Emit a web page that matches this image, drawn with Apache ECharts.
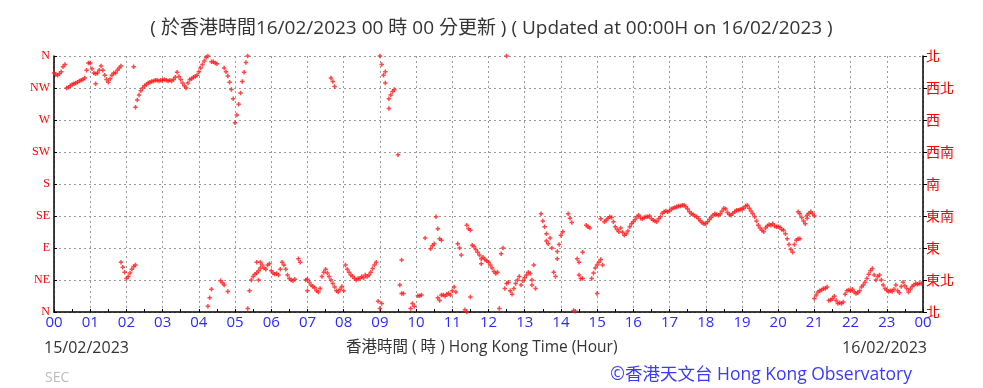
<!DOCTYPE html>
<html><head><meta charset="utf-8">
<script src="https://cdn.jsdelivr.net/npm/echarts@6/dist/echarts.min.js"></script>
<style>html,body{margin:0;padding:0;background:#fff;}#c{width:983px;height:388px;}</style>
</head><body><div id="c"></div>
<script>
// Wind direction (degrees) sampled every 3 minutes; one array per hour (20 slots).
// A slot may hold null (no data) or a list of several readings.
const h00 = [336,334,333,335,338,345,348,315,316,318,320,321,322,323,325,326,327,329,340,350];
const h01 = [350,342,336,[335,321],336,340,346,340,333,327,323,328,333,336,336,340,343,[346,70],63,56];
const h02 = [47,50,55,60,[64,345],[66,288],298,305,311,315,318,320,322,323,324,325,326,326,325,326];
const h03 = [326,327,326,325,326,325,327,330,337,331,327,322,318,315,322,327,328,330,331,333];
const h04 = [338,343,348,353,358,[360,8],20,[352,32],352,350,349,null,44,41,[343,38],338,[332,29],323,313,300];
const h05 = [266,277,292,308,324,337,351,[360,5],30,45,50,53,[55,70],[58,45],[70,62],66,62,60,66,68];
const h06 = [58,55,53,54,52,60,70,66,60,52,47,45,44,46,null,75,70,null,null,45];
const h07 = [[46,30],42,38,36,34,30,28,33,50,56,60,55,50,[45,329],[40,324],[35,317],30,28,32,36];
const h08 = [30,66,60,56,52,50,47,45,47,47,50,48,52,50,52,56,61,66,70,15];
const h09 = [[360,5],[348,12],333,[322,338],null,[286,300],305,310,313,null,221,38,[26,73],26,null,null,null,5,12,8];
const h10 = [null,23,23,24,null,104,null,null,89,93,96,134,[117,20],[103,16],[101,24],24,22,25,26,24];
const h11 = [30,35,28,96,90,80,null,3,[0,122],117,[115,21],94,92,88,84,80,[75,68],77,74,72];
const h12 = [70,66,62,57,54,56,5,82,90,33,[40,360],42,30,25,33,40,45,50,38,44];
const h13 = [48,52,56,54,[45,38],66,33,null,null,138,128,120,[110,100],96,104,90,56,50,[75,85],95];
const h14 = [108,113,null,null,138,132,126,2,1,75,[70,52],47,[84,47],null,122,120,118,47,55,62];
const h15 = [[66,26],70,[131,74],66,127,129,132,134,133,127,120,116,113,118,112,108,110,114,120,124];
const h16 = [127,130,134,136,132,131,133,134,134,135,131,129,128,127,131,134,139,141,142,141];
const h17 = [142,145,146,147,148,149,149,150,150,148,145,141,138,137,135,134,131,128,126,124];
const h18 = [124,127,130,133,136,138,137,136,138,142,146,145,140,137,136,139,141,143,143,144];
const h19 = [145,146,149,150,146,142,138,134,128,122,118,115,113,118,121,123,122,124,121,120];
const h20 = [120,119,116,115,110,103,95,88,84,95,101,[103,141],[103,138],133,128,124,[136,132],139,141,138];
const h21 = [[135,19],24,28,30,31,33,33,35,16,17,19,22,16,12,13,12,14,25,30,31];
const h22 = [30,32,28,26,27,30,35,38,42,47,53,58,61,52,45,50,52,45,38,33];
const h23 = [31,29,30,29,32,38,30,27,36,42,37,33,28,32,36,38,40,39,40,40];

const hours = [h00,h01,h02,h03,h04,h05,h06,h07,h08,h09,h10,h11,h12,h13,h14,h15,h16,h17,h18,h19,h20,h21,h22,h23];
const dirLabelsEN = ['N','NE','E','SE','S','SW','W','NW','N'];
const dirLabelsZH = ['北','東北','東','東南','南','西南','西','西北','北'];
const hourLabels = ['00','01','02','03','04','05','06','07','08','09','10','11','12','13','14','15','16','17','18','19','20','21','22','23','00'];

const points = [];
hours.forEach((arr, h) => {
  arr.forEach((v, k) => {
    const t = h + k * 0.05;
    if (v === null) return;
    (Array.isArray(v) ? v : [v]).forEach(d => points.push([t, d]));
  });
});

const chart = echarts.init(document.getElementById('c'), null, {renderer: 'canvas'});
const sans = '"Open Sans","Noto Sans","Noto Sans CJK TC",sans-serif';
const grid = {left: 54, right: 60, top: 56, bottom: 76};
chart.setOption({
  animation: false,
  backgroundColor: '#fff',
  grid: grid,
  title: [
    {text: '( 於香港時間16/02/2023 00 時 00 分更新 ) ( Updated at 00:00H on 16/02/2023 )', left: 'center', top: 14,
     textStyle: {fontSize: 19, fontWeight: 'normal', color: '#333', fontFamily: '"Open Sans","Noto Sans CJK TC",sans-serif'}},
    {text: '15/02/2023', left: 39, top: 335, textStyle: {fontSize: 16, fontWeight: 'normal', color: '#333', fontFamily: sans}},
    {text: '香港時間 ( 時 ) Hong Kong Time (Hour)', left: 341, top: 335, textStyle: {fontSize: 15.5, fontWeight: 'normal', color: '#333', fontFamily: sans}},
    {text: '16/02/2023', right: 51, top: 335, textStyle: {fontSize: 16, fontWeight: 'normal', color: '#333', fontFamily: sans}},
    {text: 'SEC', left: 40, top: 366, textStyle: {fontSize: 14, fontWeight: 'normal', color: '#bbb', fontFamily: sans}},
    {text: '©香港天文台 Hong Kong Observatory', right: 66, top: 361, textStyle: {fontSize: 17.5, fontWeight: 'normal', color: '#3a3aff', fontFamily: sans}}
  ],
  xAxis: {
    type: 'value', min: 0, max: 24, interval: 1,
    axisLine: {show: true, onZero: false, lineStyle: {color: '#000', width: 1.5}},
    axisTick: {show: true, inside: true, length: 3, lineStyle: {color: '#000'}},
    minorTick: {show: true, splitNumber: 2, length: 3, lineStyle: {color: '#000'}},
    axisLabel: {color: '#2a2aff', fontSize: 15, margin: 3, fontFamily: sans,
      formatter: v => hourLabels[Math.round(v)]},
    splitLine: {show: true, lineStyle: {color: '#999', type: [2, 3], width: 1}}
  },
  yAxis: [
    {type: 'value', min: 0, max: 360, interval: 45, position: 'left',
     axisLine: {show: true, lineStyle: {color: '#000', width: 1.5}},
     axisTick: {show: true, inside: true, length: 3, lineStyle: {color: '#000'}},
     axisLabel: {color: '#ff0000', fontSize: 12, margin: 4, fontFamily: '"Liberation Serif","DejaVu Serif",serif',
       formatter: v => dirLabelsEN[Math.round(v / 45)]},
     splitLine: {show: true, lineStyle: {color: '#999', type: [2, 3], width: 1}}},
    {type: 'value', min: 0, max: 360, interval: 45, position: 'right',
     axisLine: {show: true, lineStyle: {color: '#000', width: 1.5}},
     axisTick: {show: true, inside: false, length: 4, lineStyle: {color: '#000'}},
     axisLabel: {color: '#ff0000', fontSize: 14, margin: 3, fontFamily: '"Noto Sans CJK TC",sans-serif',
       formatter: v => dirLabelsZH[Math.round(v / 45)]},
     splitLine: {show: false}}
  ],
  series: [{
    type: 'scatter', data: points, yAxisIndex: 0,
    symbol: 'path://M1,0H2V1H3V2H2V3H1V2H0V1H1Z', symbolSize: 4.5,
    itemStyle: {color: '#ff1a1a'},
    clip: false
  }]
});
</script></body></html>
